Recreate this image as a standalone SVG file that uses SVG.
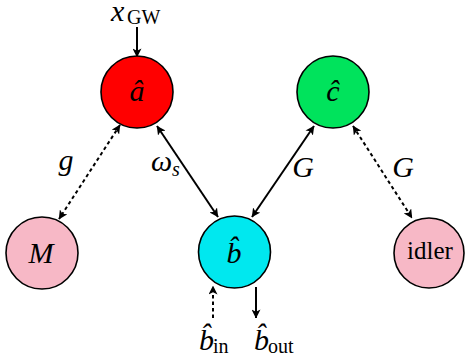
<svg xmlns="http://www.w3.org/2000/svg" width="466" height="360" viewBox="0 0 466 360">
<defs>
<marker id="ah" viewBox="0 0 10 10" refX="9.5" refY="5" markerWidth="9" markerHeight="9" markerUnits="userSpaceOnUse" orient="auto-start-reverse">
<path d="M0,0 L10,5 L0,10 L2.5,5 z" fill="#000"/>
</marker>
</defs>
<style>
.node{stroke:#000;stroke-width:1.6}
.m{font-family:"Liberation Serif","DejaVu Serif",serif;font-style:italic;font-size:30px;fill:#000}
.r{font-family:"Liberation Serif","DejaVu Serif",serif;font-size:25px;fill:#000}
.sub{font-family:"Liberation Serif","DejaVu Serif",serif;font-size:20px;fill:#000}
.subi{font-family:"Liberation Serif","DejaVu Serif",serif;font-style:italic;font-size:20px;fill:#000}
.c{stroke:#000;stroke-width:2;fill:none}
.d{stroke-dasharray:3.5 3}
</style>
<g id="connectors">
<line class="c" x1="137" y1="27" x2="137" y2="57" marker-end="url(#ah)"/>
<line class="c d" x1="120" y1="125" x2="59" y2="219" marker-start="url(#ah)" marker-end="url(#ah)"/>
<line class="c" x1="157" y1="126" x2="218" y2="217" marker-start="url(#ah)" marker-end="url(#ah)"/>
<line class="c" x1="314" y1="126" x2="252" y2="217" marker-start="url(#ah)" marker-end="url(#ah)"/>
<line class="c d" x1="353" y1="126" x2="412" y2="218" marker-start="url(#ah)" marker-end="url(#ah)"/>
<line class="c d" x1="213" y1="318" x2="213" y2="286" marker-end="url(#ah)"/>
<line class="c" x1="256" y1="287" x2="256" y2="318" marker-end="url(#ah)"/>
</g>
<g id="labels">
<text x="111" y="21" class="m">x</text><text x="127" y="24" class="sub">GW</text>
<text x="66" y="170" text-anchor="middle" class="m">g</text>
<text x="151" y="171" class="m">ω</text><text x="172" y="176" class="subi">s</text>
<text x="303" y="177" text-anchor="middle" class="m">G</text>
<text x="403" y="177" text-anchor="middle" class="m">G</text>
<text x="199" y="350" class="m">b̂</text><text x="213" y="353" class="sub">in</text>
<text x="254" y="350" class="m">b̂</text><text x="268" y="353" class="sub">out</text>
</g>
<g id="node-a">
<circle class="node" cx="137" cy="92" r="36" fill="#ff0000"/>
<text x="137" y="101" text-anchor="middle" class="m">â</text>
</g>
<g id="node-c">
<circle class="node" cx="333" cy="92" r="36" fill="#00e35c"/>
<text x="333" y="101" text-anchor="middle" class="m">ĉ</text>
</g>
<g id="node-M">
<circle class="node" cx="42" cy="253" r="36" fill="#f7b8c6"/>
<text x="41" y="263" text-anchor="middle" class="m">M</text>
</g>
<g id="node-b">
<circle class="node" cx="234.5" cy="252" r="36" fill="#00e8ef"/>
<text x="234" y="263" text-anchor="middle" class="m">b̂</text>
</g>
<g id="node-idler">
<circle class="node" cx="429" cy="253" r="35" fill="#f7b8c6"/>
<text x="430" y="259" text-anchor="middle" class="r">idler</text>
</g>
</svg>
